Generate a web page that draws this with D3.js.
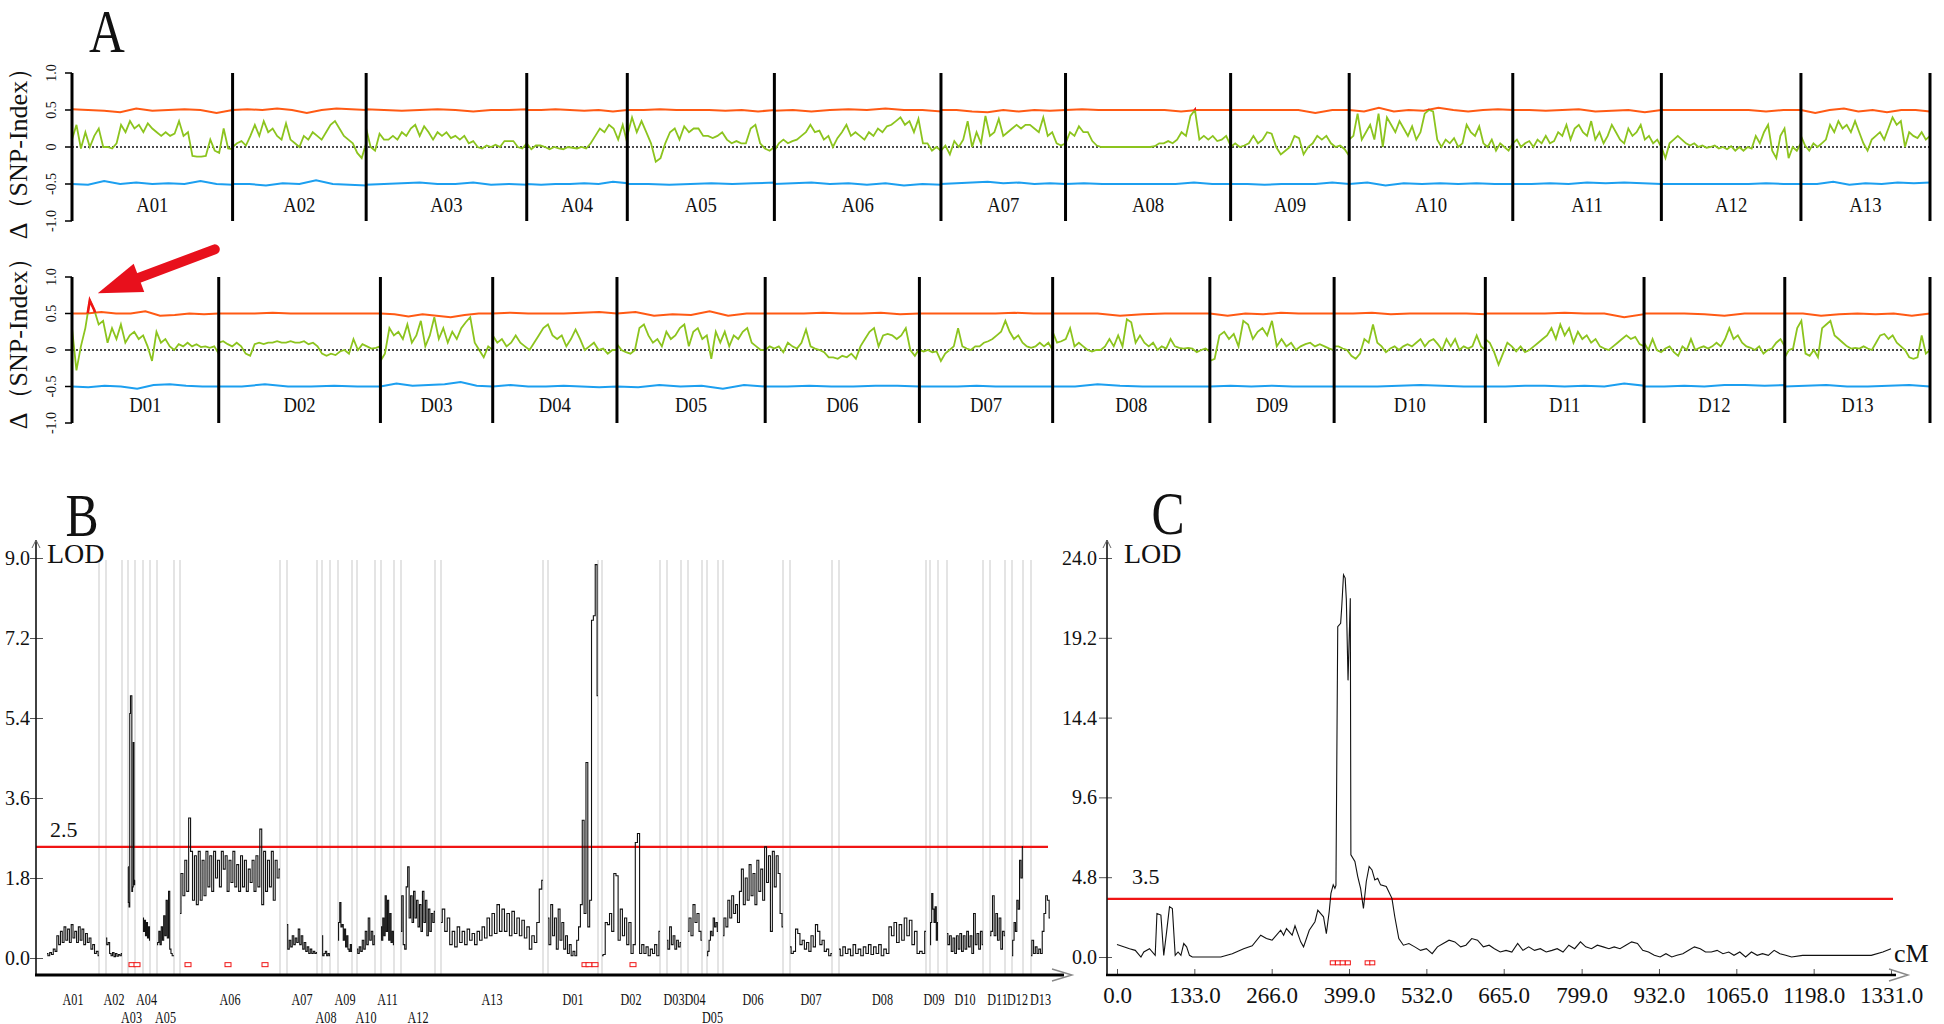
<!DOCTYPE html>
<html><head><meta charset="utf-8">
<script src="https://cdn.jsdelivr.net/npm/d3@7"></script>
<style>body{margin:0;background:#fff}svg{display:block}text{font-family:"Liberation Serif","Times New Roman",serif;fill:#111}</style>
</head><body><svg id="c" width="1944" height="1024"></svg>
<script>
// ---------------- Panel A data (ΔSNP-index) ----------------
const chromA = ["A01","A02","A03","A04","A05","A06","A07","A08","A09","A10","A11","A12","A13"];
const lenA = [107,89,107,67,98,111,83,110,79,109,99,93,86];
const chromD = ["D01","D02","D03","D04","D05","D06","D07","D08","D09","D10","D11","D12","D13"];
const lenD = [98,108,75,83,99,103,89,105,83,101,106,94,97];
const snpTicks = [1.0,0.5,0,-0.5,-1.0];
const snpTickLabels = ["1.0","0.5","0","-0.5","-1.0"];

const deltaA = [
 [0.1,0.3,-0.02,0.2,0.0,0.15,0.25,0.0,0.0,-0.02,0.05,0.3,0.2,0.35,0.25,0.3,0.2,0.32,0.25,0.2,0.15,0.2,0.15,0.18,0.35,0.15,0.2,-0.12,-0.13,-0.13,-0.12,0.1,-0.05,-0.08,0.25,-0.02,-0.03],
 [0.0,0.05,0.08,0.02,0.15,0.3,0.15,0.35,0.2,0.25,0.15,0.1,0.32,0.1,0.05,0.0,0.15,0.1,0.2,0.15,0.1,0.2,0.3,0.35,0.25,0.15,0.1,0.05,-0.08,-0.15,0.05],
 [0.25,0.0,-0.05,0.18,0.1,0.1,0.15,0.1,0.2,0.15,0.25,0.3,0.15,0.28,0.2,0.1,0.2,0.15,0.2,0.12,0.15,0.1,0.15,0.05,0.08,0.0,-0.02,0.02,0.0,0.03,0.0,0.08,0.08,0.08,0.0,-0.02,0.05],
 [0.05,-0.03,0.02,0.02,0.0,-0.03,0.0,-0.02,-0.03,0.0,-0.01,-0.02,0.0,-0.02,0.05,0.15,0.25,0.2,0.3,0.25,0.1,0.3,0.05],
 [0.15,0.4,0.2,0.35,0.2,0.05,-0.2,-0.15,0.05,0.2,0.25,0.1,0.28,0.2,0.25,0.25,0.15,0.15,0.12,0.15,0.2,0.1,0.05,0.08,0.05,0.05,0.25,0.3,0.05,-0.02,-0.05,0.0],
 [-0.05,0.05,0.1,0.05,0.08,0.1,0.15,0.2,0.3,0.2,0.22,0.1,0.15,0.0,0.12,0.2,0.3,0.15,0.2,0.15,0.1,0.2,0.15,0.25,0.2,0.28,0.3,0.35,0.4,0.3,0.35,0.2,0.38,0.05,0.05,-0.05,0.0,-0.05],
 [-0.05,0.02,-0.1,0.08,0.0,0.1,0.35,0.0,0.2,0.05,0.42,0.15,0.2,0.38,0.15,0.2,0.25,0.3,0.25,0.3,0.3,0.25,0.2,0.4,0.15,0.2,0.05,0.02,0.05],
 [0.05,0.2,0.15,0.28,0.2,0.2,0.08,0.02,0.0,0.0,0.0,0.0,0.0,0.0,0.0,0.0,0.0,0.0,0.0,0.0,0.01,0.05,0.05,0.08,0.05,0.1,0.2,0.15,0.42,0.5,0.1,0.15,0.1,0.15,0.08,0.1,0.15,0.02],
 [0.0,0.05,0.0,0.02,0.05,0.15,0.05,0.1,0.2,0.18,0.0,-0.1,-0.05,0.0,0.15,0.12,-0.1,0.0,0.05,0.15,0.1,0.15,0.05,0.0,0.02,-0.03,-0.12],
 [0.1,0.15,0.45,0.1,0.2,0.3,0.1,0.45,0.0,0.4,0.3,0.2,0.35,0.25,0.15,0.28,0.1,0.2,0.45,0.5,0.48,0.1,0.0,0.1,0.05,0.12,0.0,0.05,0.3,0.2,0.15,0.28,0.05,0.0,0.1,-0.05,0.05,0.0,-0.05,0.05],
 [0.05,0.1,0.0,0.05,0.08,0.0,0.1,0.05,0.15,0.05,0.08,0.2,0.15,0.3,0.1,0.25,0.3,0.2,0.15,0.35,0.1,0.2,0.05,0.15,0.3,0.2,0.1,0.05,0.25,0.15,0.2,0.3,0.1,0.15,0.05,0.1,0.0],
 [0.0,-0.15,0.05,0.1,0.15,0.1,0.05,0.02,0.05,0.0,0.02,-0.01,0.0,0.02,-0.02,0.0,-0.03,0.01,-0.05,0.0,-0.05,0.0,-0.02,0.15,0.05,0.2,0.3,-0.05,-0.15,0.15,0.25,-0.15,0.0,-0.05,0.05],
 [0.15,0.02,-0.05,0.05,0.0,0.05,0.1,0.3,0.2,0.35,0.25,0.3,0.2,0.35,0.2,0.05,-0.05,0.1,0.15,0.2,0.1,0.25,0.4,0.3,0.35,0.0,0.2,0.15,0.12,0.2,0.1,0.15]
];
const upperA = [
 [0.51,0.5,0.49,0.47,0.52,0.49,0.5,0.51,0.5,0.46,0.5],
 [0.5,0.51,0.5,0.52,0.5,0.46,0.5,0.52,0.51,0.5],
 [0.51,0.5,0.49,0.5,0.51,0.5,0.48,0.5,0.5,0.51],
 [0.5,0.5,0.51,0.5,0.49,0.5,0.48,0.5],
 [0.5,0.5,0.51,0.5,0.5,0.5,0.49,0.5,0.48,0.5],
 [0.49,0.5,0.48,0.5,0.51,0.5,0.52,0.5,0.5,0.48],
 [0.5,0.5,0.48,0.47,0.5,0.48,0.5,0.49,0.5],
 [0.5,0.51,0.5,0.5,0.5,0.5,0.5,0.48,0.5,0.5,0.5],
 [0.5,0.5,0.5,0.5,0.5,0.46,0.5,0.5],
 [0.5,0.48,0.53,0.48,0.5,0.49,0.53,0.5,0.48,0.5,0.51,0.5],
 [0.5,0.5,0.49,0.5,0.51,0.48,0.49,0.5,0.47,0.5],
 [0.5,0.5,0.5,0.5,0.5,0.5,0.48,0.5,0.5],
 [0.5,0.46,0.5,0.52,0.48,0.5,0.47,0.5,0.5,0.48]
];
const lowerA = [
 [-0.5,-0.51,-0.46,-0.5,-0.48,-0.5,-0.49,-0.5,-0.46,-0.5,-0.51],
 [-0.5,-0.5,-0.52,-0.49,-0.5,-0.45,-0.5,-0.51,-0.52],
 [-0.51,-0.5,-0.49,-0.48,-0.5,-0.5,-0.48,-0.51,-0.5,-0.51],
 [-0.5,-0.51,-0.5,-0.5,-0.49,-0.5,-0.47,-0.49],
 [-0.5,-0.5,-0.51,-0.5,-0.49,-0.5,-0.49,-0.48],
 [-0.5,-0.49,-0.48,-0.5,-0.49,-0.51,-0.49,-0.52,-0.5,-0.51],
 [-0.5,-0.49,-0.48,-0.47,-0.49,-0.48,-0.5,-0.49,-0.5],
 [-0.5,-0.49,-0.5,-0.5,-0.5,-0.5,-0.5,-0.48,-0.5,-0.5],
 [-0.5,-0.5,-0.51,-0.5,-0.5,-0.5,-0.48,-0.5],
 [-0.5,-0.48,-0.52,-0.49,-0.5,-0.49,-0.5,-0.49,-0.5,-0.5],
 [-0.5,-0.5,-0.49,-0.5,-0.48,-0.49,-0.48,-0.49,-0.5],
 [-0.5,-0.5,-0.5,-0.5,-0.5,-0.5,-0.49,-0.5,-0.5],
 [-0.5,-0.5,-0.47,-0.51,-0.49,-0.5,-0.48,-0.49,-0.48]
];
const deltaD = [
 [0.3,-0.28,0.05,0.3,0.68,0.55,0.35,0.4,0.1,0.3,0.15,0.35,0.1,0.2,0.25,0.15,0.2,0.05,-0.15,0.25,0.1,0.15,0.05,0.0,0.08,0.05,0.1,0.05,0.08,0.04,0.05,0.03,0.05,-0.05],
 [0.1,0.12,0.08,0.05,0.1,0.05,-0.05,-0.08,0.08,0.1,0.08,0.1,0.1,0.12,0.1,0.1,0.12,0.1,0.1,0.12,0.08,0.1,0.05,-0.05,-0.08,-0.05,-0.07,-0.02,0.0,-0.05,0.15,0.0,0.08,0.05,0.02,0.03,0.05],
 [-0.15,-0.05,0.3,0.2,0.25,0.15,0.35,0.1,0.2,0.4,0.05,0.2,0.45,0.15,0.3,0.1,0.25,0.15,0.3,0.38,0.45,0.1,0.0,-0.1,0.05,0.0],
 [0.2,0.1,0.15,0.05,0.1,0.2,0.1,0.05,0.0,0.1,0.2,0.3,0.35,0.2,0.15,0.2,0.05,0.15,0.28,0.15,0.0,0.05,0.1,0.0,0.02,-0.05,0.0,0.0],
 [0.08,0.0,-0.03,-0.05,0.0,0.3,0.35,0.2,0.1,0.15,0.05,0.25,0.15,0.2,0.3,0.35,0.05,0.25,0.3,0.15,0.2,-0.12,0.25,0.1,0.25,0.05,0.2,0.15,0.25,0.3,0.1,0.05,0.0,0.0],
 [0.0,0.05,0.02,0.05,-0.03,0.1,0.05,0.02,0.1,0.28,0.05,0.02,0.0,-0.03,-0.1,-0.1,-0.12,-0.08,-0.1,-0.05,-0.12,0.05,0.15,0.25,0.3,0.05,0.2,0.22,0.2,0.15,0.2,0.3,0.0,-0.08,0.02],
 [0.0,-0.02,0.0,-0.03,-0.02,-0.15,-0.05,0.0,0.05,0.3,0.05,0.02,0.0,0.05,0.05,0.1,0.12,0.15,0.2,0.25,0.4,0.25,0.15,0.2,0.1,0.05,0.03,0.05,0.1,0.05,0.1,0.0],
 [0.25,0.1,0.12,0.15,0.3,0.05,0.1,0.05,0.0,-0.02,0.0,0.0,0.05,0.15,0.05,0.2,0.05,0.42,0.38,0.1,0.2,0.1,0.05,0.1,0.0,0.05,0.02,0.15,0.05,0.03,0.02,0.03,0.02,-0.03,0.0,0.02,-0.02],
 [-0.15,-0.12,0.2,0.25,0.15,0.22,0.05,0.4,0.35,0.15,0.25,0.3,0.2,0.4,0.05,0.15,0.05,0.1,0.0,0.05,0.08,0.1,0.05,0.08,0.05,0.02,0.0],
 [0.05,0.05,0.02,0.0,-0.08,-0.12,-0.05,0.15,0.1,0.35,0.1,0.05,-0.03,0.02,0.05,0.0,0.05,0.08,0.05,0.1,0.15,0.05,0.12,0.15,0.08,0.0,0.15,0.05,0.15,0.0,0.05,0.02,0.05,0.2,0.05,0.0],
 [0.15,0.1,-0.03,-0.2,-0.05,0.1,0.05,-0.02,0.05,-0.03,0.0,0.05,0.1,0.15,0.2,0.3,0.15,0.35,0.2,0.3,0.1,0.25,0.15,0.2,0.1,0.15,0.05,0.02,0.0,0.05,0.1,0.15,0.2,0.15,0.18,0.08,0.05],
 [0.1,0.0,0.15,0.0,-0.03,0.02,0.05,-0.03,-0.08,0.05,0.0,0.15,0.0,0.03,0.05,0.02,0.05,0.1,0.05,0.15,0.3,0.15,0.2,0.1,0.05,0.03,0.0,0.05,-0.05,0.0,0.02,0.1,0.15,0.05],
 [-0.1,0.0,0.02,0.3,0.4,-0.05,-0.08,0.0,-0.1,0.3,0.35,0.4,0.2,0.15,0.1,0.05,0.02,0.03,0.02,0.05,0.02,0.0,0.1,0.2,0.22,0.15,0.2,0.1,0.05,0.0,-0.1,-0.12,-0.1,0.2,-0.05,0.0]
];
const upperD = [
 [0.5,0.5,0.52,0.5,0.5,0.53,0.47,0.48,0.5,0.49,0.5],
 [0.5,0.5,0.5,0.51,0.5,0.5,0.5,0.5,0.5,0.5],
 [0.5,0.49,0.46,0.49,0.47,0.45,0.48,0.5,0.5],
 [0.5,0.51,0.5,0.5,0.5,0.51,0.52,0.5],
 [0.5,0.52,0.47,0.49,0.48,0.53,0.47,0.5,0.5],
 [0.5,0.5,0.5,0.51,0.5,0.5,0.51,0.49,0.5],
 [0.5,0.5,0.5,0.5,0.5,0.51,0.5,0.5],
 [0.5,0.5,0.5,0.47,0.49,0.5,0.5,0.5],
 [0.5,0.47,0.5,0.49,0.51,0.5,0.5,0.5],
 [0.5,0.5,0.51,0.49,0.5,0.5,0.5,0.5,0.49],
 [0.5,0.5,0.5,0.5,0.51,0.5,0.5,0.45,0.49],
 [0.5,0.5,0.5,0.49,0.47,0.5,0.5,0.5],
 [0.5,0.5,0.47,0.49,0.5,0.49,0.5,0.47,0.5]
];
const lowerD = [
 [-0.5,-0.51,-0.49,-0.5,-0.53,-0.48,-0.47,-0.49,-0.5,-0.5],
 [-0.5,-0.5,-0.47,-0.5,-0.5,-0.49,-0.5,-0.5],
 [-0.5,-0.46,-0.49,-0.48,-0.47,-0.44,-0.49,-0.5],
 [-0.5,-0.48,-0.5,-0.5,-0.49,-0.5,-0.51,-0.5],
 [-0.5,-0.51,-0.48,-0.5,-0.49,-0.53,-0.48,-0.5],
 [-0.5,-0.5,-0.49,-0.5,-0.5,-0.49,-0.49,-0.5],
 [-0.5,-0.5,-0.5,-0.49,-0.5,-0.5,-0.5,-0.5],
 [-0.5,-0.5,-0.47,-0.49,-0.5,-0.5,-0.5,-0.5],
 [-0.5,-0.49,-0.5,-0.49,-0.5,-0.5,-0.5],
 [-0.5,-0.5,-0.5,-0.49,-0.48,-0.49,-0.5,-0.5],
 [-0.5,-0.5,-0.49,-0.49,-0.5,-0.49,-0.5,-0.46,-0.49],
 [-0.5,-0.5,-0.49,-0.5,-0.48,-0.48,-0.49,-0.48],
 [-0.5,-0.49,-0.48,-0.5,-0.5,-0.49,-0.48,-0.5]
];

// ---------------- Panel B data (LOD along linkage map, cM) ----------------
const qtlChroms = ["A01","A02","A03","A04","A05","A06","A07","A08","A09","A10","A11","A12","A13","D01","D02","D03","D04","D05","D06","D07","D08","D09","D10","D11","D12","D13"];
const qtlStart = [44,280,368,428,484,576,1004,1144,1208,1284,1380,1460,1620,2048,2264,2524,2608,2684,2748,3016,3212,3576,3644,3816,3904,3980];
const qtlEnd   = [252,344,396,456,552,976,1124,1176,1264,1356,1432,1596,2028,2248,2496,2580,2664,2728,2988,3184,3560,3608,3788,3876,3948,4056];
const qtlLabelRow = [0,0,1,0,1,0,0,1,0,1,0,1,0,0,0,0,0,1,0,0,0,0,0,0,0,0];
const qtlLod = [
 [0.1,0.05,0.12,0.08,0.2,0.15,0.5,0.3,0.6,0.35,0.7,0.4,0.65,0.35,0.75,0.45,0.6,0.35,0.7,0.4,0.65,0.3,0.55,0.35,0.45,0.2,0.3,0.1,0.15,0.05],
 [0.45,0.3,0.35,0.1,0.05,0.12,0.03,0.1,0.04,0.08,0.05,0.1],
 [2.05,1.25,1.15,5.5,5.9,5.9,1.5,1.6,4.85,1.65,1.75],
 [0.9,0.6,0.85,0.5,0.8,0.45,0.7,0.4],
 [0.3,0.35,0.6,0.3,0.7,0.4,0.95,0.5,1.3,0.45,1.5,0.2,0.1,0.05,0.05],
 [1.0,1.9,1.4,2.2,1.5,3.15,2.4,1.3,2.3,1.2,2.4,1.3,2.2,1.4,2.4,1.6,2.3,1.5,2.4,1.8,2.2,1.6,2.4,2.0,2.3,1.5,2.2,1.7,2.4,1.6,2.1,1.5,2.3,1.6,2.2,1.5,2.0,1.7,2.2,1.5,2.3,1.6,2.9,1.2,2.4,1.5,2.2,1.6,2.4,1.3,2.2,1.8,2.0],
 [0.75,0.2,0.4,0.25,0.5,0.3,0.45,0.35,0.65,0.3,0.5,0.2,0.35,0.15,0.25,0.1,0.2,0.1,0.15,0.1,0.12],
 [0.5,0.05,0.1,0.15,0.05,0.1,0.05],
 [0.4,0.8,1.25,0.7,0.75,0.4,0.65,0.25,0.5,0.2,0.15,0.3,0.15],
 [0.2,0.1,0.25,0.15,0.4,0.2,0.6,0.3,0.9,0.4,0.6,0.3,0.5],
 [0.7,0.4,0.9,0.5,1.4,0.6,1.3,0.4,1.0,0.35,0.6,0.3],
 [0.6,1.4,0.3,0.2,1.6,2.05,0.9,1.4,0.8,1.5,0.9,1.3,0.7,1.2,0.6,1.5,0.8,1.3,0.5,1.1,0.6,1.0,0.8,1.05],
 [0.8,1.1,0.6,0.9,0.3,0.6,0.25,0.7,0.35,0.6,0.3,0.65,0.4,0.55,0.3,0.6,0.4,0.7,0.45,0.9,0.5,1.0,0.55,1.2,0.6,1.1,0.6,1.0,0.5,1.05,0.55,0.9,0.5,0.85,0.45,0.7,0.2,0.5,0.35,0.8,1.55,1.75],
 [0.9,0.3,1.2,0.5,0.9,0.2,1.1,0.4,0.8,0.2,0.5,0.1,0.3,0.05,0.15,0.05,0.4,0.7,1.2,3.1,1.0,4.4,0.7,1.3,7.6,7.7,8.85,5.9],
 [0.05,0.08,0.8,0.75,1.0,0.6,1.9,1.85,0.4,1.1,0.5,0.9,0.3,0.8,0.1,0.3,2.6,2.8,0.1,0.3,0.1,0.25,0.05,0.2,0.1,0.3,0.05,0.6],
 [0.4,0.2,0.7,0.3,0.5,0.2,0.4,0.25,0.35],
 [0.6,0.9,0.5,1.2,0.8,1.0,0.6,0.4],
 [0.05,0.15,0.4,0.6,0.5,0.9,0.7,0.8,0.6],
 [0.5,0.9,0.7,1.3,0.9,1.4,1.0,1.2,0.8,1.5,2.0,1.2,1.8,1.3,2.1,1.4,1.9,1.2,2.2,1.5,2.0,1.3,2.5,1.7,2.3,0.6,2.4,1.6,2.3,1.9,1.0,0.7],
 [0.25,0.1,0.15,0.65,0.55,0.3,0.4,0.2,0.35,0.15,0.5,0.25,0.75,0.6,0.3,0.4,0.15,0.2,0.05,0.1],
 [0.2,0.05,0.25,0.1,0.2,0.05,0.3,0.1,0.2,0.05,0.25,0.1,0.3,0.08,0.25,0.1,0.3,0.05,0.2,0.1,0.7,0.5,0.8,0.35,0.75,0.4,0.9,0.5,0.85,0.3,0.6,0.1,0.15,0.1,0.6],
 [0.3,0.8,1.45,1.1,0.8,1.15,0.4,0.8],
 [0.55,0.3,0.5,0.15,0.45,0.1,0.5,0.2,0.55,0.15,0.5,0.2,0.6,0.25,0.5,0.1,1.0,0.3,0.55,0.2,0.6,0.3],
 [0.5,0.6,1.4,0.5,1.0,0.4,0.9,0.2,0.6,0.5],
 [0.05,0.4,0.8,0.6,1.3,1.1,2.2,1.8,2.5],
 [0.05,0.4,0.1,0.25,0.1,0.2,0.1,0.6,1.0,1.4,1.3,0.9]
];
const qtlTicks = [0,1.8,3.6,5.4,7.2,9.0];
const qtlThreshold = 2.5;
const qtlMarkers = [384,404,608,768,916,2196,2212,2236,2388];

// ---------------- Panel C data ----------------
const cPos = [0,21.6,31.4,41.2,46.1,55.9,65.7,68.7,75.5,80.4,85.3,90.3,95.2,100.1,105,109.9,114.8,119.7,124.6,129.5,178.5,198.2,217.8,232.5,247.2,257,266.8,281.5,286.5,291.4,301.2,306.1,315.9,320.8,330.6,340.4,345.3,355.1,360,364.9,367.9,371.8,374.7,376.5,379.6,384.6,386.5,389.5,392.4,394.4,397.3,401.2,402.2,409.1,414,418.9,423.8,428.7,433.6,438.5,443.4,448.3,453.2,463,472.8,477.7,484.6,492.5,
 502,512,522,532,542,551,561,571,581,591,600,610,620,630,640,649,659,669,679,689,698,708,718,728,738,748,757,767,777,787,797,806,816,826,836,846,855,865,875,885,895,904,914,924,934,944,954,963,973,983,993,1003,1012,1022,1032,1042,1052,1061,1071,1081,1091,1101,1110,1120,1130,1140,1150,1160,1179,1209,1258,1297,1317,1331];
const cLod = [0.75,0.5,0.4,0,0.3,0.5,0.1,2.62,2.52,0.1,1.51,3.03,2.92,0.1,0.3,0.1,0.81,0.61,0.1,0,0,0.2,0.5,0.67,1.31,1.11,1.01,1.61,1.31,1.71,1.31,1.88,0.91,0.61,1.61,2.12,2.82,2.42,1.41,2.72,3.83,4.34,4.13,4.3,19.87,20.07,21.08,22.99,22.79,21.48,16.64,21.58,6.15,5.75,4.84,4.13,2.92,4.54,5.45,5.24,4.64,4.74,4.34,4.24,3.53,2.42,1.11,0.71,
 0.81,0.61,0.4,0.5,0.2,0.61,0.81,1.01,0.91,0.61,0.71,1.11,1.01,0.61,0.71,0.5,0.3,0.4,0.3,0.81,0.4,0.61,0.4,0.5,0.3,0.4,0.5,0.3,0.71,0.5,0.91,0.61,0.5,0.71,0.61,0.5,0.61,0.5,0.71,0.91,0.81,0.4,0.3,0.1,0,0.2,0,0.1,0.2,0.4,0.61,0.5,0.3,0.3,0.4,0.2,0.3,0.1,0.3,0,0.3,0.1,0.2,0.1,0.4,0.2,0.1,0,0.1,0.1,0.1,0.1,0.3,0.5];
const cTicksY = [0,4.8,9.6,14.4,19.2,24.0];
const cTicksX = [0,133,266,399,532,665,799,932,1065,1198,1331];
const cThreshold = 3.5;
const cMarkers = [371,380,388,397,431,439];

// ---------------- Drawing ----------------
const svg = d3.select("#c");
svg.append("rect").attr("width",1944).attr("height",1024).attr("fill","#fff");
const ORANGE="#ff5a14", GREEN="#8cc41e", BLUE="#1c9ff0", RED="#f01414";
function squeeze(sel,f){ sel.each(function(){ const w=this.getComputedTextLength(); this.setAttribute("textLength",w*f); this.setAttribute("lengthAdjust","spacingAndGlyphs"); }); }

function panelTitle(t,x,y){ const s=svg.append("text").attr("x",x).attr("y",y).attr("text-anchor","middle").attr("font-size",62).text(t); squeeze(s,0.8); }
panelTitle("A",107,52); panelTitle("B",82,536); panelTitle("C",1168,534);

function snpRow(names, lens, delta, upper, lower, yTop, yBot, labelY, axisLabelY){
  const cum = d3.cumsum(lens); const starts = [0, ...cum.slice(0,-1)];
  const total = d3.sum(lens);
  const x = d3.scaleLinear().domain([0,total]).range([72,1930]);
  const y = d3.scaleLinear().domain([-1,1]).range([yBot,yTop]);
  const g = svg.append("g");
  const pts = arr => arr.flatMap((vals,i)=>vals.map((v,j)=>[starts[i]+j/(vals.length-1)*lens[i], v]));
  const line = d3.line().x(d=>x(d[0])).y(d=>y(d[1]));
  g.append("line").attr("x1",x(0)).attr("x2",x(total)).attr("y1",y(0)).attr("y2",y(0)).attr("stroke","#111").attr("stroke-width",1.3).attr("stroke-dasharray","2,2");
  const up = pts(upper), gr = pts(delta), lo = pts(lower);
  g.append("path").attr("d",line(up)).attr("fill","none").attr("stroke",ORANGE).attr("stroke-width",2);
  g.append("path").attr("d",line(lo)).attr("fill","none").attr("stroke",BLUE).attr("stroke-width",2);
  g.append("path").attr("d",line(gr)).attr("fill","none").attr("stroke",GREEN).attr("stroke-width",1.8);
  const cid = "clip"+yTop;
  svg.append("clipPath").attr("id",cid).append("path")
    .attr("d", d3.area().x(d=>x(d[0])).y0(yTop-40).y1(d=>y(d[1]))(up));
  g.append("path").attr("d",line(gr)).attr("fill","none").attr("stroke",RED).attr("stroke-width",2.6).attr("clip-path",`url(#${cid})`);
  [...starts, total].forEach(s=>{
    g.append("line").attr("x1",x(s)).attr("x2",x(s)).attr("y1",yTop).attr("y2",yBot).attr("stroke","#000").attr("stroke-width",3);
  });
  snpTicks.forEach((t,i)=>{
    g.append("line").attr("x1",65).attr("x2",72).attr("y1",y(t)).attr("y2",y(t)).attr("stroke","#000").attr("stroke-width",1.5);
    g.append("text").attr("transform",`translate(51,${y(t)}) rotate(-90)`).attr("text-anchor","middle").attr("dominant-baseline","central").attr("font-size",14).text(snpTickLabels[i]);
  });
  names.forEach((n,i)=>{
    const t=g.append("text").attr("x",x(starts[i]+lens[i]/2)).attr("y",labelY).attr("text-anchor","middle").attr("font-size",22).text(n);
    squeeze(t,0.85);
  });
  g.append("text").attr("transform",`translate(18,${axisLabelY}) rotate(-90)`).attr("text-anchor","middle").attr("dominant-baseline","central").attr("font-size",26).text("Δ（SNP-Index）");
  return {x,y,starts};
}
snpRow(chromA,lenA,deltaA,upperA,lowerA,73,221,212,147);
const rowD = snpRow(chromD,lenD,deltaD,upperD,lowerD,277,423,412,337);

// red arrow annotation pointing at the D01 peak
(function(){
  const pi = d3.maxIndex(deltaD[0]);
  const px = rowD.x(pi/(deltaD[0].length-1)*lenD[0]) + 8, py = rowD.y(deltaD[0][pi]) - 7;
  const tx = px+117, ty = py-44;
  const L = Math.hypot(tx-px,ty-py), ux=(tx-px)/L, uy=(ty-py)/L, nx=-uy, ny=ux;
  const bx = px+ux*44, by = py+uy*44;
  svg.append("line").attr("x1",bx-ux*4).attr("y1",by-uy*4).attr("x2",tx).attr("y2",ty).attr("stroke","#e8101c").attr("stroke-width",10).attr("stroke-linecap","round");
  svg.append("path").attr("d",`M${px},${py}L${bx+nx*15},${by+ny*15}L${bx-nx*15},${by-ny*15}Z`).attr("fill","#e8101c");
})();

// ---------------- Panel B ----------------
(function(){
  const x = d3.scaleLinear().domain([0,4100]).range([36,1061]);
  const y = d3.scaleLinear().domain([0,9]).range([958,558]);
  const g = svg.append("g");
  qtlChroms.forEach((c,i)=>{
    if(i>0) g.append("line").attr("x1",x(qtlStart[i])).attr("x2",x(qtlStart[i])).attr("y1",560).attr("y2",975).attr("stroke","#d9d9d9").attr("stroke-width",1.4);
    if(i<qtlChroms.length-1) g.append("line").attr("x1",x(qtlEnd[i])).attr("x2",x(qtlEnd[i])).attr("y1",560).attr("y2",975).attr("stroke","#d9d9d9").attr("stroke-width",1.4);
  });
  g.append("line").attr("x1",x(0)).attr("x2",x(4048)).attr("y1",y(qtlThreshold)).attr("y2",y(qtlThreshold)).attr("stroke",RED).attr("stroke-width",2.2);
  g.append("text").attr("x",50).attr("y",y(qtlThreshold)-10).attr("font-size",22).text(qtlThreshold.toFixed(1));
  const line = d3.line().x(d=>x(d[0])).y(d=>y(d[1])).curve(d3.curveStep);
  qtlLod.forEach((vals,i)=>{
    const pts = vals.map((v,j)=>[qtlStart[i]+j/(vals.length-1)*(qtlEnd[i]-qtlStart[i]), v]);
    g.append("path").attr("d",line(pts)).attr("fill","none").attr("stroke","#111").attr("stroke-width",1.1);
  });
  qtlMarkers.forEach(m=>g.append("rect").attr("x",x(m)-3).attr("y",y(-0.15)-2).attr("width",6).attr("height",4).attr("fill","#fff").attr("stroke",RED).attr("stroke-width",1));
  const ya = g.append("g").attr("transform","translate(36,0)").call(d3.axisLeft(y).tickValues(qtlTicks).tickFormat(d3.format(".1f")).tickSize(6).tickPadding(6));
  ya.select(".domain").remove();
  ya.selectAll(".tick line").attr("x1",-6).attr("x2",7).attr("stroke","#555");
  ya.selectAll(".tick text").attr("x",-6).attr("font-size",20).attr("font-family","Liberation Serif").attr("fill","#111");
  g.append("line").attr("x1",36).attr("x2",36).attr("y1",540).attr("y2",975).attr("stroke","#111").attr("stroke-width",1.6);
  g.append("path").attr("d","M32,548L36,540L40,548").attr("fill","none").attr("stroke","#666").attr("stroke-width",1);
  g.append("line").attr("x1",35).attr("x2",1064).attr("y1",975).attr("y2",975).attr("stroke","#000").attr("stroke-width",3);
  g.append("path").attr("d","M1052,969L1072,975L1052,981").attr("fill","none").attr("stroke","#888").attr("stroke-width",1.4);
  g.append("text").attr("x",47).attr("y",563).attr("font-size",28).text("LOD");
  qtlChroms.forEach((c,i)=>{
    const t=g.append("text").attr("x",x((qtlStart[i]+qtlEnd[i])/2)).attr("y",qtlLabelRow[i]?1023:1005).attr("text-anchor","middle").attr("font-size",16).text(c);
    squeeze(t,0.76);
  });
})();

// ---------------- Panel C ----------------
(function(){
  const x = d3.scaleLinear().domain([0,1331]).range([1117,1891]);
  const y = d3.scaleLinear().domain([0,24]).range([957,558]);
  const g = svg.append("g");
  g.append("line").attr("x1",1107).attr("x2",1893).attr("y1",y(cThreshold)).attr("y2",y(cThreshold)).attr("stroke",RED).attr("stroke-width",2.2);
  g.append("text").attr("x",1132).attr("y",y(cThreshold)-15).attr("font-size",22).text(cThreshold.toFixed(1));
  const line = d3.line().x((d,i)=>x(cPos[i])).y(d=>y(d));
  g.append("path").attr("d",line(cLod)).attr("fill","none").attr("stroke","#111").attr("stroke-width",1.1);
  cMarkers.forEach(m=>g.append("rect").attr("x",x(m)-2.5).attr("y",y(-0.35)-2).attr("width",5).attr("height",4).attr("fill","#fff").attr("stroke",RED).attr("stroke-width",1));
  const ya = g.append("g").attr("transform","translate(1107,0)").call(d3.axisLeft(y).tickValues(cTicksY).tickFormat(d3.format(".1f")).tickSize(6).tickPadding(4));
  ya.select(".domain").remove();
  ya.selectAll(".tick line").attr("x1",-8).attr("x2",5).attr("stroke","#555");
  ya.selectAll(".tick text").attr("font-size",20).attr("font-family","Liberation Serif").attr("fill","#111");
  g.append("line").attr("x1",1107).attr("x2",1107).attr("y1",540).attr("y2",975).attr("stroke","#111").attr("stroke-width",1.6);
  g.append("path").attr("d","M1103,548L1107,540L1111,548").attr("fill","none").attr("stroke","#666").attr("stroke-width",1);
  const xa = g.append("g").attr("transform","translate(0,975)").call(d3.axisBottom(x).tickValues(cTicksX).tickFormat(d3.format(".1f")).tickSize(0).tickPadding(12));
  xa.select(".domain").remove();
  xa.selectAll(".tick line").attr("y1",-6).attr("y2",0).attr("stroke","#555");
  xa.selectAll(".tick text").attr("font-size",23).attr("font-family","Liberation Serif").attr("fill","#111");
  g.append("line").attr("x1",1106).attr("x2",1896).attr("y1",975).attr("y2",975).attr("stroke","#000").attr("stroke-width",2.6);
  g.append("path").attr("d","M1889,969L1908,975L1889,981").attr("fill","none").attr("stroke","#888").attr("stroke-width",1.4);
  g.append("text").attr("x",1124).attr("y",563).attr("font-size",28).text("LOD");
  g.append("text").attr("x",1894).attr("y",962).attr("font-size",26).text("cM");
})();
</script></body></html>
